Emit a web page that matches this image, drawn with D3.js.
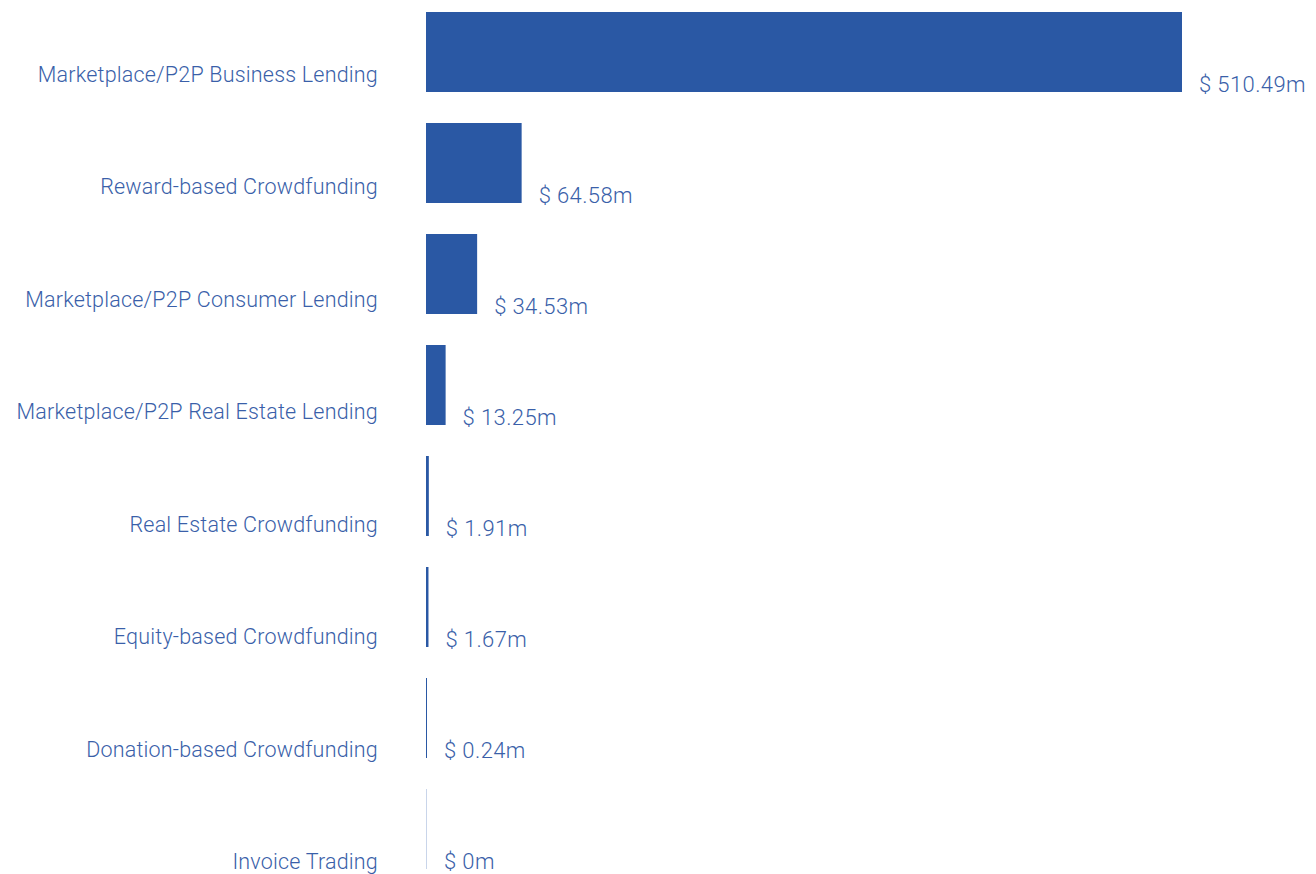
<!DOCTYPE html>
<html><head><meta charset="utf-8">
<script src="https://cdn.jsdelivr.net/npm/d3@7"></script>
<style>
html,body{margin:0;padding:0;background:#fff;}
svg{display:block;}
text{font-family:Roboto,"Noto Sans",sans-serif;font-weight:300;}
</style></head>
<body>
<svg id="chart" width="1316" height="874"></svg>
<script>
const categories = ["Marketplace/P2P Business Lending","Reward-based Crowdfunding","Marketplace/P2P Consumer Lending","Marketplace/P2P Real Estate Lending","Real Estate Crowdfunding","Equity-based Crowdfunding","Donation-based Crowdfunding","Invoice Trading"];
const values = [510.49, 64.58, 34.53, 13.25, 1.91, 1.67, 0.24, 0];
const valueLabels = ["$ 510.49m","$ 64.58m","$ 34.53m","$ 13.25m","$ 1.91m","$ 1.67m","$ 0.24m","$ 0m"];

const svg = d3.select("#chart");
const barColor = "#2a58a4", textColor = "#3a5fa9";
const x = d3.scaleLinear().domain([0, 510.49]).range([426, 1182]);
const y = d3.scaleBand().domain(categories).range([12, 869]).paddingInner(31/111).paddingOuter(0);
const yLabel = d3.scalePoint().domain(categories).range([82, 869]);
const data = categories.map((c,i)=>({c, v: values[i], l: valueLabels[i]}));

svg.selectAll("rect.bar").data(data).join("rect").attr("class","bar")
  .attr("x", x(0)).attr("y", d=>y(d.c)).attr("height", y.bandwidth())
  .attr("width", d=>Math.max(1, x(d.v)-x(0)))
  .attr("fill", d=> d.v===0 ? "#c9d5ea" : barColor);

svg.selectAll("text.cat").data(data).join("text").attr("class","cat")
  .attr("x", 378).attr("y", d=>yLabel(d.c))
  .attr("text-anchor","end").attr("fill", textColor).attr("font-size", 21.5)
  .attr("letter-spacing", 0.2)
  .text(d=>d.c);

svg.selectAll("text.val").data(data).join("text").attr("class","val")
  .attr("x", d=>Math.max(x(d.v), x(0)+1)+17).attr("y", d=>y(d.c)+y.bandwidth()-0.5)
  .attr("fill", textColor).attr("font-size", 22)
  .attr("letter-spacing", 0.4)
  .text(d=>d.l);
</script>
</body></html>
